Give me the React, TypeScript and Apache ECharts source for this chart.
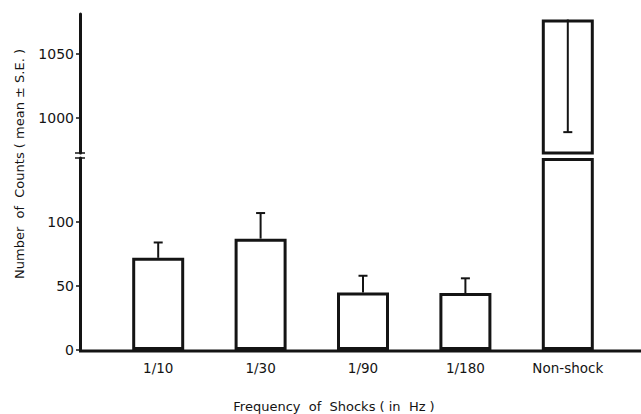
import React, { useEffect, useRef } from "react";
import * as echarts from "echarts";

const categories = ["1/10", "1/30", "1/90", "1/180", "Non-shock"];
const means = [72, 87, 45, 44.5, 1077];
const errorEnds = [84, 107, 58, 56, 989];
const lowerTicks = [0, 50, 100];
const upperTicks = [1000, 1050];

const INK = "#141414";
const FONT = "DejaVu Sans";

export default function App() {
  const ref = useRef<HTMLDivElement>(null);
  useEffect(() => {
    if (!ref.current) return;
    const chart = echarts.init(ref.current, null, { renderer: "svg" });

    const lowerData = means.map((v) => Math.min(v, 150));
    const upperData = means.map((v) => (v > 150 ? v : null));
    const errLower = means
      .map((m, i) => (m <= 150 ? [i, m, errorEnds[i]] : null))
      .filter((d) => d !== null);
    const errUpper = means
      .map((m, i) => (m > 150 ? [i, m, errorEnds[i]] : null))
      .filter((d) => d !== null);

    const renderErr = (params: any, api: any) => {
      const i = api.value(0);
      const a = api.coord([i, api.value(1)]);
      const b = api.coord([i, api.value(2)]);
      return {
        type: "group",
        children: [
          { type: "line", shape: { x1: a[0], y1: a[1], x2: b[0], y2: b[1] }, style: { stroke: INK, lineWidth: 2 } },
          { type: "line", shape: { x1: b[0] - 4.5, y1: b[1], x2: b[0] + 4.5, y2: b[1] }, style: { stroke: INK, lineWidth: 2 } },
        ],
      };
    };

    const barStyle = { color: "#ffffff", borderColor: INK, borderWidth: 3 };
    const commonX = {
      type: "category",
      data: categories,
      axisTick: { show: false },
      axisLine: { show: false },
      splitLine: { show: false },
    };
    const yLabel = {
      color: INK,
      fontFamily: FONT,
      fontSize: 14,
      margin: 6,
      formatter: (v: number) => String(v),
    };

    chart.setOption({
      animation: false,
      grid: [
        { left: 107, width: 512, top: 158, height: 192 },
        { left: 107, width: 512, top: 14, height: 139 },
      ],
      xAxis: [
        {
          ...commonX,
          gridIndex: 0,
          axisLabel: { color: INK, fontFamily: FONT, fontSize: 13.5, margin: 11 },
        },
        { ...commonX, gridIndex: 1, axisLabel: { show: false } },
      ],
      yAxis: [
        {
          type: "value",
          gridIndex: 0,
          min: 0,
          max: 150,
          offset: 27,
          axisLine: { show: true, lineStyle: { color: INK, width: 3 } },
          axisTick: { show: true, length: 4, customValues: lowerTicks, lineStyle: { color: INK, width: 1.5 } },
          axisLabel: { ...yLabel, customValues: lowerTicks },
          splitLine: { show: false },
        },
        {
          type: "value",
          gridIndex: 1,
          min: 972.7,
          max: 1081.3,
          offset: 27,
          axisLine: { show: true, lineStyle: { color: INK, width: 3 } },
          axisTick: { show: true, length: 4, customValues: upperTicks, lineStyle: { color: INK, width: 1.5 } },
          axisLabel: { ...yLabel, customValues: upperTicks },
          splitLine: { show: false },
        },
      ],
      series: [
        { type: "bar", xAxisIndex: 0, yAxisIndex: 0, data: lowerData, barWidth: 52, itemStyle: barStyle, clip: true },
        { type: "bar", xAxisIndex: 1, yAxisIndex: 1, data: upperData, barWidth: 52, itemStyle: barStyle, clip: true },
        { type: "custom", xAxisIndex: 0, yAxisIndex: 0, data: errLower, renderItem: renderErr, z: 5 },
        { type: "custom", xAxisIndex: 1, yAxisIndex: 1, data: errUpper, renderItem: renderErr, z: 5 },
      ],
      graphic: [
        { type: "line", shape: { x1: 79, y1: 351, x2: 641, y2: 351 }, style: { stroke: INK, lineWidth: 3 } },
        { type: "line", shape: { x1: 75, y1: 153, x2: 85, y2: 153 }, style: { stroke: INK, lineWidth: 1.5 } },
        { type: "line", shape: { x1: 75, y1: 158, x2: 85, y2: 158 }, style: { stroke: INK, lineWidth: 1.5 } },
        {
          type: "text",
          x: 19,
          y: 164,
          rotation: Math.PI / 2,
          style: {
            text: "Number  of  Counts ( mean ± S.E. )",
            fill: INK,
            font: `13px "${FONT}"`,
            align: "center",
            verticalAlign: "middle",
          },
        },
        {
          type: "text",
          x: 334,
          y: 406,
          style: {
            text: "Frequency  of  Shocks ( in  Hz )",
            fill: INK,
            font: `13px "${FONT}"`,
            align: "center",
            verticalAlign: "middle",
          },
        },
      ],
    });
    return () => chart.dispose();
  }, []);
  return (
    <div
      ref={ref}
      style={{ position: "absolute", left: 0, top: 0, width: 641, height: 414 }}
    />
  );
}
